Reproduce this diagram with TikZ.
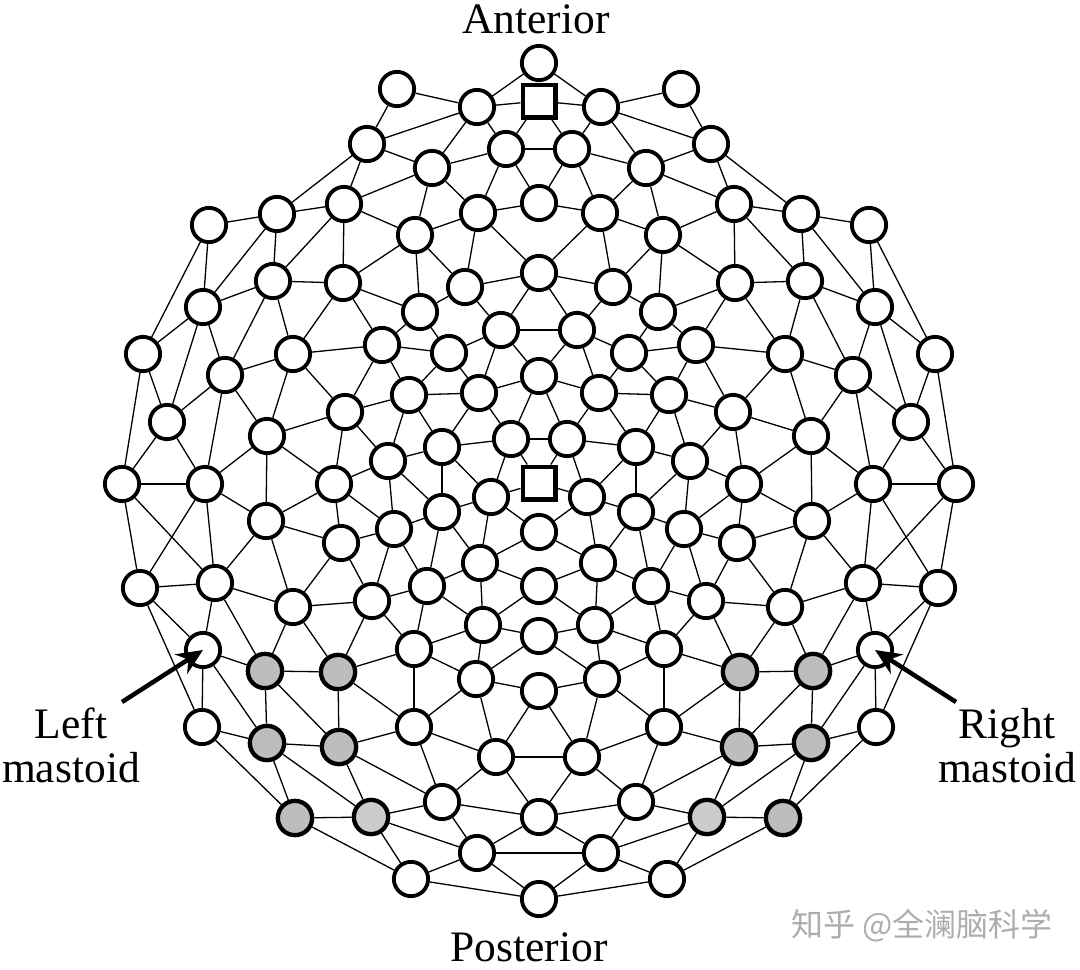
\documentclass[tikz,border=0pt]{standalone}
\usepackage{fontspec}
\setmainfont{Liberation Serif}
\newfontfamily\cjk{Noto Sans CJK SC}
\usetikzlibrary{arrows.meta,
                positioning}
\tikzset{
	%Define style for electrodes
	elec/.style={
	       circle,
	       draw=black,
	       fill=white,
	       line width=3.8pt,
	       inner sep=0pt,
	       minimum size=34.3pt},
	elecgray/.style={
	       elec,
	       line width=4.3pt},
	refbox/.style={
	       rectangle,
	       draw=black,
	       fill=white,
	       line width=4.3pt,
	       inner sep=0pt,
	       minimum size=32.7pt},
	% Define line styles
	lnk/.style={
	       draw=black,
	       line width=1.3pt},
	pil/.style={
	       -{Stealth[length=26pt,width=23pt]},
	       line width=4.5pt},
	lbl/.style={
	       font=\fontsize{43.5}{44}\selectfont,
	       inner sep=0pt},
	lbltwo/.style={
	       lbl,
	       align=center}
}
\begin{document}
\begin{tikzpicture}[x=1pt, y=-1pt]
	\useasboundingbox (0,0) rectangle (1080,970);
	% midline
	\foreach \num/\py in {1/63,3/203,4/273,5/376,7/532,8/586,9/636,10/691,11/817,12/899}
		\node[elec] (c\num) at (539,\py) {};
	\node[refbox] (c2) at (539,101) {};
	\node[refbox] (c6) at (539,483) {};
	% left and right electrodes
	\foreach \num/\px/\py in {1/397/89,2/477/107,3/367/144,4/506/149,5/432/168,6/344/204,
		7/478/213,8/277/214,9/209/225,10/415/235,11/273/281,12/343/283,13/465/287,
		14/203/307,15/420/312,16/501/330,17/382/345,18/293/354,19/143/354,20/449/353,
		21/225/375,22/409/395,23/479/393,24/345/412,25/167/422,26/511/439,27/267/436,
		28/442/447,29/388/461,30/122/484,31/205/484,32/334/484,33/491/497,34/266/521,
		35/442/512,36/394/529,37/341/543,38/480/563,39/140/588,40/215/583,41/427/586,
		42/293/607,43/372/601,44/483/625,45/414/649,46/203/650,49/476/679,50/202/727,
		51/414/727,54/496/757,55/442/802,58/477/853,59/411/879}
	{
		\node[elec] (l\num) at (\px,\py) {};
		\node[elec] (r\num) at ({1078-\px},\py) {};
	}
	\foreach \num/\px/\py/\shade in {47/265/671/26,48/338/672/26,52/267/743/26,
		53/339/747/26,56/295/818/26,57/371/817/20}
	{
		\node[elecgray, fill=black!\shade] (l\num) at (\px,\py) {};
		\node[elecgray, fill=black!\shade] (r\num) at ({1078-\px},\py) {};
	}
	% links
	\foreach \s in {l,r}
	{
		\foreach \a/\b in {1/2,1/3,2/3,2/4,2/5,3/5,3/6,3/8,4/5,4/7,5/6,5/7,5/10,6/8,6/10,
			6/11,6/12,7/10,7/13,8/9,8/11,8/14,9/14,9/19,10/12,10/13,10/15,11/12,11/14,
			11/18,11/21,12/15,12/17,12/18,13/15,13/16,14/19,14/21,14/25,15/17,15/20,
			16/20,16/23,17/18,17/20,17/22,17/24,18/21,18/24,18/27,19/25,19/30,20/22,
			20/23,21/25,21/27,21/31,22/23,22/24,22/28,22/29,23/26,23/28,24/27,24/29,
			24/32,25/30,25/31,26/28,26/33,27/31,27/32,27/34,28/29,28/33,28/35,29/32,
			29/35,29/36,30/31,30/39,30/40,31/39,31/40,31/34,32/34,32/36,32/37,33/35,
			33/38,34/37,34/40,34/42,35/36,35/38,35/41,36/37,36/41,36/43,37/42,37/43,
			38/41,38/44,39/40,39/46,39/50,40/42,40/46,40/47,41/43,41/44,41/45,42/43,
			42/47,42/48,43/45,43/48,44/45,44/49,45/48,45/49,45/51,46/47,46/50,46/52,
			47/48,47/52,47/53,48/51,48/53,49/51,49/54,50/52,50/56,51/53,51/54,51/55,
			52/53,52/56,52/57,53/55,53/57,54/55,55/57,55/58,56/57,56/59,57/58,57/59,
			58/59}
			\draw[lnk] (\s\a) -- (\s\b);
		\foreach \a/\b in {2/1,2/2,4/2,4/3,7/3,7/4,13/4,16/4,16/5,23/5,26/5,26/6,33/6,
			33/7,38/7,38/8,44/8,44/9,49/9,49/10,54/10,54/11,55/11,58/11,58/12,59/12}
			\draw[lnk] (\s\a) -- (c\b);
	}
	\foreach \a in {4,16,26,54,58}
		\draw[lnk] (l\a) -- (r\a);
	% labels
	\node[lbl, above=9.5pt of c1, xshift=-3pt] (anterior) {Anterior};
	\node[lbl, below=14.5pt of c12, xshift=-10pt] (posterior) {Posterior};
	\node[lbltwo] (leftlabel) at (71,745.5) {Left\\mastoid};
	\node[lbltwo] (rightlabel) at (1007,745.5) {Right\\mastoid};
	\coordinate (leftend) at (122,702);
	\coordinate (rightend) at (956,702);
	\draw[pil] (leftend) -- (l46.center);
	\draw[pil] (rightend) -- (r46.center);
	\node[font=\cjk\fontsize{32}{34}\selectfont, text=black!32, inner sep=0pt] (mark) at (922,926) {知乎 @全澜脑科学};
\end{tikzpicture}
\end{document}
